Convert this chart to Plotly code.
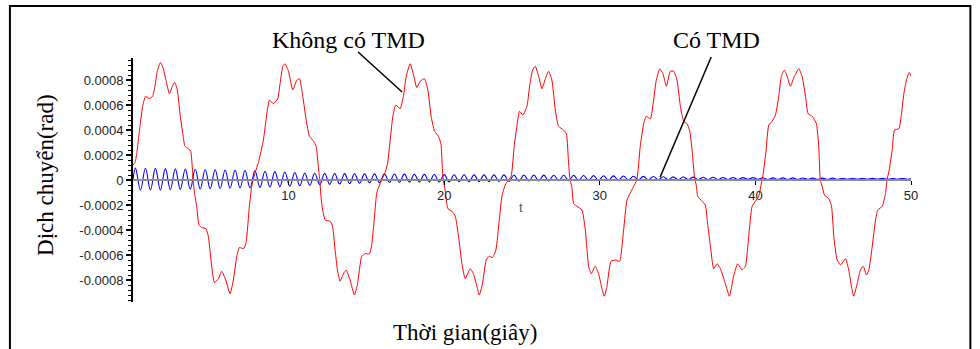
import plotly.graph_objects as go

# ---------------- data ----------------
# "Không có TMD" (without TMD) : time [s] and displacement [rad]
red_t = [0.00, 0.13, 0.25, 0.34, 0.45, 0.62, 0.81, 1.03, 1.26, 1.41,
         1.56, 1.76, 1.95, 2.17, 2.34, 2.53, 2.68, 2.85, 3.02, 3.20,
         3.34, 3.56, 3.71, 3.80, 3.86, 3.95, 4.10, 4.24, 4.42, 4.69,
         4.84, 5.06, 5.23, 5.49, 5.70, 5.96, 6.24, 6.45, 6.67, 6.84,
         7.10, 7.25, 7.35, 7.48, 7.63, 7.72, 7.85, 8.06, 8.38, 8.60,
         8.77, 9.02, 9.30, 9.45, 9.63, 9.77, 9.99, 10.27, 10.53, 10.70,
         10.91, 11.13, 11.34, 11.60, 11.77, 11.90, 12.00, 12.13, 12.35, 12.67,
         12.82, 12.99, 13.14, 13.31, 13.52, 13.70, 13.95, 14.23, 14.43, 14.70,
         14.92, 15.20, 15.35, 15.50, 15.67, 15.85, 15.98, 16.20, 16.36, 16.53,
         16.70, 16.89, 17.17, 17.38, 17.56, 17.81, 18.03, 18.24, 18.46, 18.73,
         18.95, 19.16, 19.38, 19.63, 19.79, 19.88, 19.94, 20.06, 20.24, 20.50,
         20.71, 20.92, 21.14, 21.35, 21.67, 21.88, 22.10, 22.25, 22.46, 22.70,
         22.89, 23.11, 23.32, 23.54, 23.71, 23.92, 24.12, 24.30, 24.50, 24.67,
         24.84, 25.06, 25.32, 25.49, 25.68, 25.85, 26.07, 26.28, 26.50, 26.71,
         26.92, 27.14, 27.35, 27.67, 27.85, 28.00, 28.09, 28.21, 28.32, 28.53,
         28.85, 29.07, 29.28, 29.45, 29.71, 29.92, 30.14, 30.29, 30.46, 30.72,
         31.00, 31.27, 31.53, 31.75, 32.18, 32.38, 32.60, 32.82, 32.99, 33.25,
         33.46, 33.63, 33.85, 34.06, 34.28, 34.53, 34.75, 34.96, 35.18, 35.39,
         35.61, 35.78, 35.93, 36.08, 36.13, 36.21, 36.29, 36.57, 36.78, 36.93,
         37.11, 37.32, 37.54, 37.75, 38.07, 38.33, 38.60, 38.86, 39.14, 39.36,
         39.57, 39.79, 40.00, 40.21, 40.42, 40.49, 40.69, 40.86, 41.07, 41.29,
         41.50, 41.67, 41.86, 42.04, 42.25, 42.51, 42.79, 43.00, 43.22, 43.39,
         43.65, 43.92, 44.07, 44.17, 44.29, 44.44, 44.72, 44.89, 45.04, 45.25,
         45.47, 45.79, 46.00, 46.17, 46.32, 46.54, 46.75, 46.93, 47.14, 47.29,
         47.51, 47.72, 47.87, 48.15, 48.36, 48.46, 48.60, 48.79, 48.94, 49.22,
         49.37, 49.54, 49.71, 49.88, 50.00]
red_y = [0.00012, 0.00014, 0.00022, 0.00032, 0.00043, 0.00059, 0.00067, 0.00065, 0.00067, 0.00075,
         0.00087, 0.00094, 0.00089, 0.00077, 0.00069, 0.00075, 0.00078, 0.00072, 0.00053, 0.00037,
         0.00027, 0.00025, 0.00023, 0.00012, 0.0, -0.0001, -0.00022, -0.00036, -0.00038, -0.00039,
         -0.00045, -0.00069, -0.00082, -0.00079, -0.00073, -0.0008, -0.00091, -0.0008, -0.00061, -0.00054,
         -0.00055, -0.00051, -0.0004, -0.00021, -0.00005, 0.0, 0.00006, 0.00014, 0.00032, 0.00053,
         0.00064, 0.00061, 0.00065, 0.00077, 0.00091, 0.00093, 0.00087, 0.00072, 0.0008, 0.00081,
         0.00067, 0.00048, 0.00035, 0.00031, 0.00027, 0.00012, 0.0, -0.00019, -0.00032, -0.00033,
         -0.00037, -0.00056, -0.00072, -0.00081, -0.00075, -0.00072, -0.0008, -0.00092, -0.00083, -0.00061,
         -0.00059, -0.00059, -0.00051, -0.00032, -0.0001, -0.00004, 0.0, 0.00006, 0.00013, 0.00032,
         0.00051, 0.0006, 0.00057, 0.00067, 0.00083, 0.00093, 0.00084, 0.00074, 0.00079, 0.00081,
         0.00072, 0.00051, 0.00039, 0.00035, 0.00029, 0.0001, 0.0, -0.00008, -0.00023, -0.00025,
         -0.00029, -0.00045, -0.00067, -0.00079, -0.00071, -0.00075, -0.00085, -0.00092, -0.00083, -0.00064,
         -0.00061, -0.00062, -0.00056, -0.00032, -0.00013, -0.00004, 0.0, 0.00003, 0.00027, 0.00043,
         0.00055, 0.00052, 0.00059, 0.00075, 0.00088, 0.00091, 0.00083, 0.00073, 0.00081, 0.00087,
         0.0008, 0.00056, 0.00043, 0.0004, 0.00037, 0.00012, 0.0, -0.00006, -0.00019, -0.00021,
         -0.00024, -0.0004, -0.00069, -0.00075, -0.00069, -0.00075, -0.00087, -0.00093, -0.00085, -0.00065,
         -0.00064, -0.00065, -0.0004, -0.00016, -0.00005, 0.0, 0.00027, 0.00045, 0.00051, 0.00049,
         0.00064, 0.0008, 0.00089, 0.00085, 0.00075, 0.00087, 0.00087, 0.0008, 0.00059, 0.00047,
         0.00045, 0.00039, 0.00024, 0.00003, 0.0, -0.00005, -0.00013, -0.00017, -0.0002, -0.00035,
         -0.00053, -0.00071, -0.00067, -0.00071, -0.00083, -0.00093, -0.00077, -0.00067, -0.00072, -0.00069,
         -0.00045, -0.00021, -0.00017, -0.00013, 0.0, 0.00004, 0.00024, 0.00044, 0.00047, 0.00052,
         0.00067, 0.00083, 0.00088, 0.00083, 0.00075, 0.00083, 0.00089, 0.00083, 0.00067, 0.00053,
         0.00051, 0.00045, 0.00027, 0.0, -0.00005, -0.00012, -0.00015, -0.00021, -0.00045, -0.00064,
         -0.00068, -0.00063, -0.00072, -0.00085, -0.00093, -0.00083, -0.00072, -0.00069, -0.00076, -0.00072,
         -0.00053, -0.00032, -0.00024, -0.00021, -0.00011, 0.0, 0.00008, 0.00024, 0.0004, 0.00041,
         0.00051, 0.00069, 0.0008, 0.00086, 0.00083]

# "Có TMD" (with TMD): time [s] of each extremum and displacement in micro-radians
blue_t = [0.00,
          0.16, 0.48, 0.80, 1.12, 1.44, 1.76, 2.08, 2.40, 2.72, 3.04,
          3.36, 3.68, 4.00, 4.32, 4.64, 4.96, 5.28, 5.60, 5.92, 6.24,
          6.56, 6.88, 7.20, 7.52, 7.84, 8.16, 8.48, 8.80, 9.12, 9.44,
          9.76, 10.08, 10.40, 10.72, 11.04, 11.36, 11.68, 12.00, 12.32, 12.64,
          12.96, 13.28, 13.60, 13.92, 14.24, 14.56, 14.88, 15.20, 15.52, 15.84,
          16.16, 16.48, 16.80, 17.12, 17.44, 17.76, 18.08, 18.40, 18.72, 19.04,
          19.36, 19.68, 20.00, 20.32, 20.64, 20.96, 21.28, 21.60, 21.92, 22.24,
          22.56, 22.88, 23.20, 23.52, 23.84, 24.16, 24.48, 24.80, 25.12, 25.44,
          25.76, 26.08, 26.40, 26.72, 27.04, 27.36, 27.68, 28.00, 28.32, 28.64,
          28.96, 29.28, 29.60, 29.92, 30.24, 30.56, 30.88, 31.20, 31.52, 31.84,
          32.16, 32.48, 32.80, 33.12, 33.44, 33.76, 34.08, 34.40, 34.72, 35.04,
          35.36, 35.68, 36.00, 36.32, 36.64, 36.96, 37.28, 37.60, 37.92, 38.24,
          38.56, 38.88, 39.20, 39.52, 39.84, 40.16, 40.48, 40.80, 41.12, 41.44,
          41.76, 42.08, 42.40, 42.72, 43.04, 43.36, 43.68, 44.00, 44.32, 44.64,
          44.96, 45.28, 45.60, 45.92, 46.24, 46.56, 46.88, 47.20, 47.52, 47.84,
          48.16, 48.48, 48.80, 49.12, 49.44, 49.76,
          50.00]
blue_urad = [0,
             95, -81, 94, -80, 93, -79, 91, -77, 89, -75,
             87, -73, 86, -72, 84, -70, 82, -68, 80, -66,
             78, -64, 76, -62, 73, -59, 70, -56, 67, -53,
             64, -50, 60, -46, 56, -42, 54, -38, 53, -35,
             52, -32, 51, -29, 50, -26, 49, -23, 49, -21,
             49, -19, 48, -18, 47, -17, 46, -16, 45, -15,
             44, -16, 43, -15, 42, -14, 42, -14, 41, -13,
             41, -13, 41, -11, 41, -11, 40, -10, 40, -8,
             40, -8, 39, -7, 38, -6, 38, -6, 37, -5,
             36, -4, 35, -3, 34, -2, 33, -1, 32, 0,
             30, 0, 29, 1, 28, 2, 26, 2, 25, 3,
             24, 4, 23, 3, 22, 4, 22, 4, 20, 4,
             20, 4, 19, 5, 19, 5, 18, 4, 17, 5,
             17, 5, 17, 5, 16, 6, 15, 5, 15, 5,
             15, 5, 14, 6, 14, 6, 14, 6, 13, 5,
             13, 5, 12, 6, 12, 6,
             9]
blue_y = [v * 1e-6 for v in blue_urad]

y_tickvals = [-0.0008, -0.0006, -0.0004, -0.0002, 0, 0.0002, 0.0004, 0.0006, 0.0008]
y_ticktext = ["-0.0008", "-0.0006", "-0.0004", "-0.0002", "0", "0.0002", "0.0004", "0.0006", "0.0008"]
x_tickvals = [10, 20, 30, 40, 50]
x_ticktext = ["10", "20", "30", "40", "50"]

# ---------------- figure ----------------
SERIF = "Liberation Serif, Times New Roman, serif"
SANS = "Liberation Sans, Arial, sans-serif"

fig = go.Figure()
fig.add_trace(go.Scatter(x=blue_t, y=blue_y, mode="lines",
                         line=dict(color="#0000ff", width=1.1, shape="spline", smoothing=1.1),
                         name="Có TMD", hoverinfo="skip"))
fig.add_trace(go.Scatter(x=red_t, y=red_y, mode="lines",
                         line=dict(color="#ff0000", width=1, shape="spline", smoothing=0.5),
                         name="Không có TMD", hoverinfo="skip"))

fig.update_layout(
    width=980, height=349,
    margin=dict(l=133, r=69, t=58, b=47, pad=0, autoexpand=False),
    paper_bgcolor="white", plot_bgcolor="white",
    showlegend=False,
    xaxis=dict(range=[0, 50], anchor="free", position=0.5, automargin=False,
               tickmode="array", tickvals=x_tickvals, ticktext=x_ticktext,
               ticks="outside", ticklen=4, tickwidth=1, tickcolor="black",
               showline=True, linecolor="#8c8c8c", linewidth=1.5,
               showgrid=False, zeroline=False,
               tickfont=dict(family=SANS, size=13, color="#222")),
    yaxis=dict(range=[-0.000976, 0.000976], automargin=False,
               tickmode="array", tickvals=y_tickvals, ticktext=y_ticktext,
               ticks="outside", ticklen=5, tickwidth=1.5, tickcolor="black",
               minor=dict(tickmode="linear", tick0=0, dtick=0.00004,
                          ticks="outside", ticklen=3, tickcolor="black", tickwidth=1),
               showline=True, linecolor="black", linewidth=2,
               showgrid=False, zeroline=False,
               tickfont=dict(family=SANS, size=13, color="#222")),
)

# frame around the whole picture
fig.add_shape(type="rect", xref="paper", yref="paper",
              x0=-0.1582, x1=1.0763, y0=-0.35, y1=1.2131,
              line=dict(color="black", width=2))

# leader lines
fig.add_shape(type="line", xref="paper", yref="paper",
              x0=0.2893, y0=1.0246, x1=0.3459, y1=0.8607,
              line=dict(color="black", width=1.5))
fig.add_shape(type="line", xref="paper", yref="paper",
              x0=0.7432, y0=1.0041, x1=0.6776, y1=0.5123,
              line=dict(color="black", width=1.5))

ann = [
    dict(text="Không có TMD", x=0.2765, y=1.0738, size=24),
    dict(text="Có TMD", x=0.7497, y=1.0738, size=24),
    dict(text="Thời gian(giây)", x=0.4269, y=-0.127, size=23),
]
for a in ann:
    fig.add_annotation(text=a["text"], x=a["x"], y=a["y"], xref="paper", yref="paper",
                       xanchor="center", yanchor="middle", showarrow=False,
                       font=dict(family=SERIF, size=a["size"], color="black"))
fig.add_annotation(text="Dịch chuyển(rad)", x=-0.1119, y=0.5205, xref="paper", yref="paper",
                   xanchor="center", yanchor="middle", showarrow=False, textangle=-90,
                   font=dict(family=SERIF, size=23, color="black"))
fig.add_annotation(text="t", x=0.4989, y=0.3893, xref="paper", yref="paper",
                   xanchor="center", yanchor="middle", showarrow=False,
                   font=dict(family=SANS, size=13, color="#555"))

fig.write_html("out.html",
               config={"displayModeBar": False},
               post_script="document.body.style.margin='0';document.body.style.padding='0';"
                           "document.body.style.overflow='hidden';")
